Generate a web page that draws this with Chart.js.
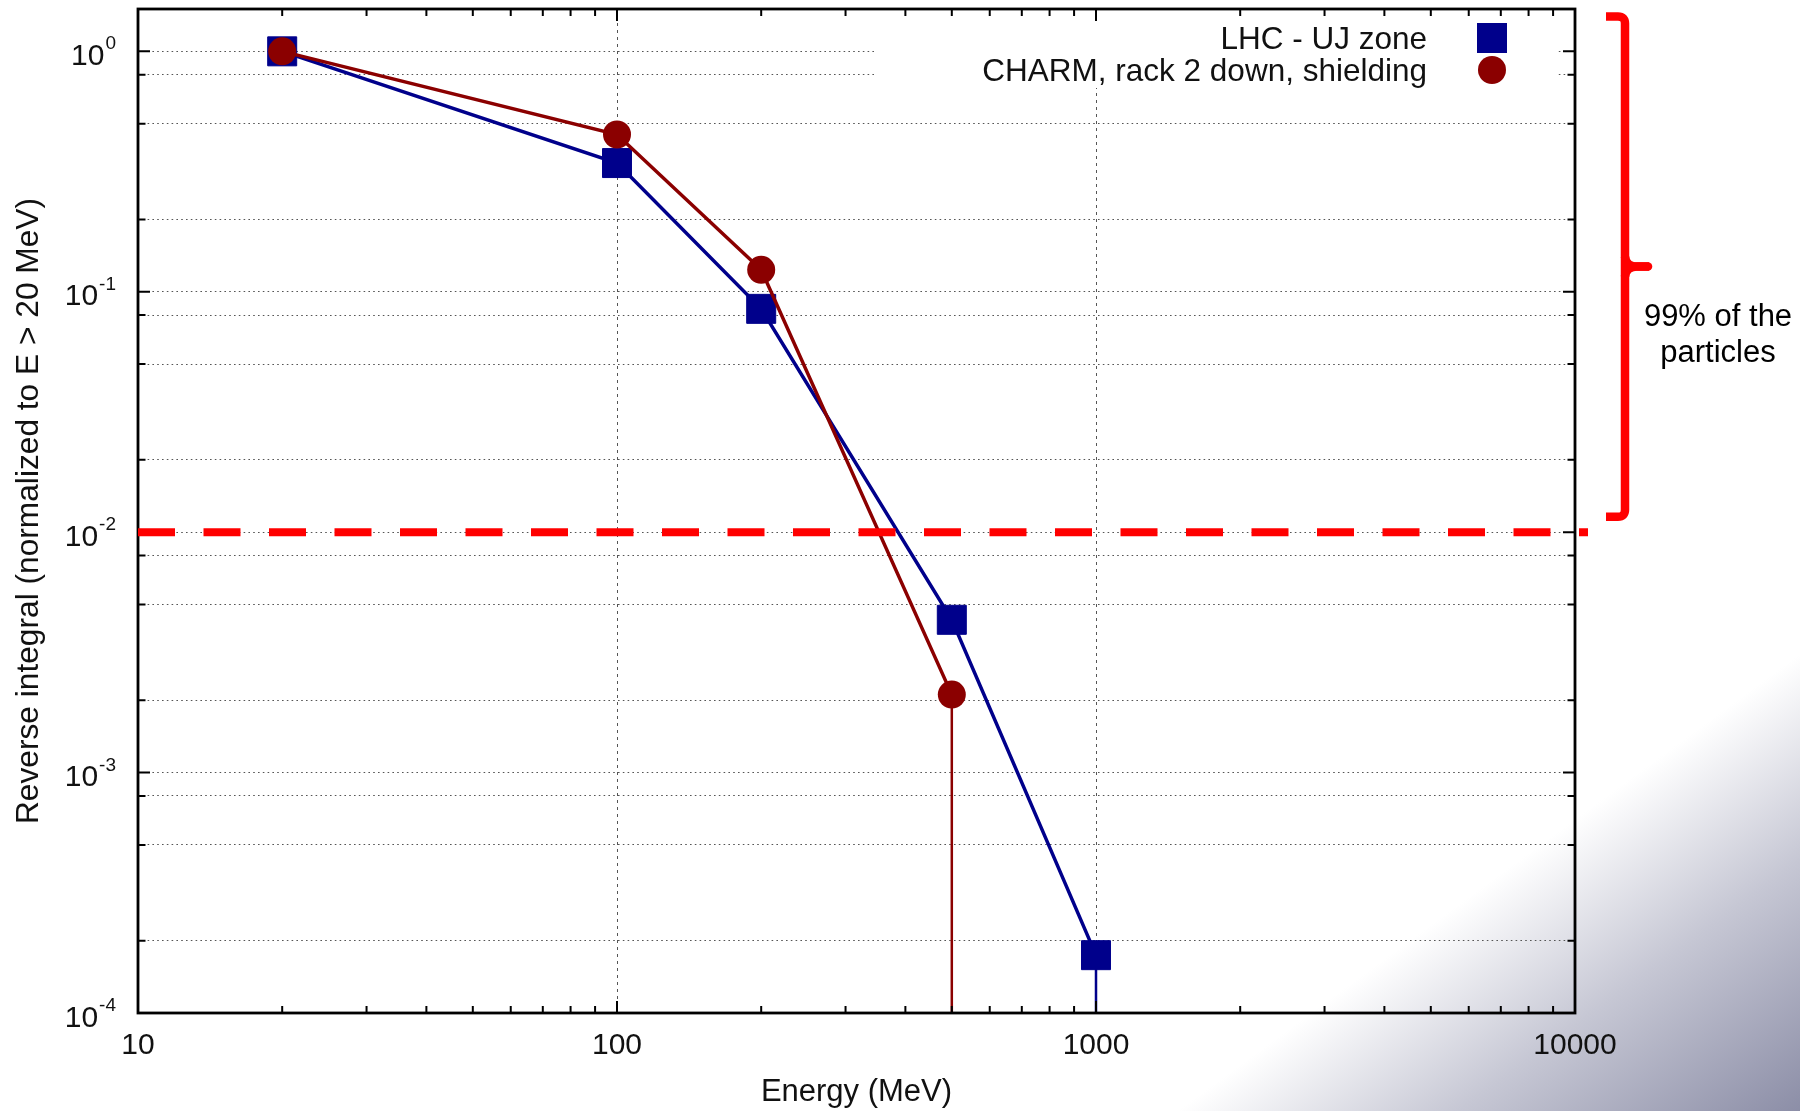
<!DOCTYPE html>
<html>
<head>
<meta charset="utf-8">
<script src="https://cdn.jsdelivr.net/npm/chart.js@4/dist/chart.umd.min.js"></script>
<style>
html,body{margin:0;padding:0;background:#fff;}
canvas{display:block;}
</style>
</head>
<body>
<canvas id="c" width="1800" height="1111"></canvas>
<script>
// ---- data ----
const seriesNames = ['LHC - UJ zone', 'CHARM, rack 2 down, shielding'];
const energyLHC   = [20, 100, 200, 500, 1000, 1000];
const valuesLHC   = [1.0, 0.343, 0.0849, 0.00432, 0.000174, 0.00001];
const energyCHARM = [20, 100, 200, 500, 500];
const valuesCHARM = [1.0, 0.451, 0.1234, 0.00211, 0.00001];
const xTickValues = [10, 100, 1000, 10000];
const yTickValues = [1e-4, 2e-4, 5e-4, 8e-4, 1e-3, 2e-3, 5e-3, 8e-3, 1e-2, 2e-2, 5e-2, 8e-2, 0.1, 0.2, 0.5, 0.8, 1];
const thresholdValue = 0.01;
const annotationLines = ['99% of the', 'particles'];
const xTitle = 'Energy (MeV)';
const yTitle = 'Reverse integral (normalized to E > 20 MeV)';
const xRange = [10, 10000];
const yRange = [1e-4, 1.5];

const FONT = '"Liberation Sans", Arial, Helvetica, sans-serif';
const BLUE = '#00008b';
const RED = '#8b0000';
Chart.defaults.font.family = FONT;

function isDecade(v) {
  const l = Math.log10(v);
  return Math.abs(l - Math.round(l)) < 1e-9;
}

const deco = {
  id: 'deco',
  beforeDraw(chart) {
    const {ctx, width, height} = chart;
    ctx.save();
    ctx.fillStyle = '#ffffff';
    ctx.fillRect(0, 0, width, height);
    const g = ctx.createLinearGradient(width - 218, height - 297, width, height);
    g.addColorStop(0, '#ffffff');
    g.addColorStop(0.45, '#c6c7d4');
    g.addColorStop(1, '#8c8ea7');
    ctx.fillStyle = g;
    ctx.fillRect(0, 0, width, height);
    ctx.restore();
  },
  beforeDatasetsDraw(chart) {
    const {ctx} = chart;
    const {top, right} = chart.chartArea;
    ctx.save();
    ctx.fillStyle = '#ffffff';
    ctx.fillRect(right - 700, top, 682, 79);
    ctx.restore();
  },
  afterDatasetsDraw(chart) {
    const {ctx} = chart;
    const {left, right, top, bottom} = chart.chartArea;
    const xs = chart.scales.x, ys = chart.scales.y;
    ctx.save();

    // frame
    ctx.strokeStyle = '#000';
    ctx.lineWidth = 2.8;
    ctx.setLineDash([]);
    ctx.strokeRect(left, top, right - left, bottom - top);

    // tick marks (inward, mirrored)
    ctx.lineWidth = 2;
    ctx.beginPath();
    for (let d = xs.min; d < xs.max * 1.0001; d *= 10) {
      for (let m = 1; m <= 9; m++) {
        const v = d * m;
        if (v > xs.max * 1.0001) break;
        const px = xs.getPixelForValue(v);
        const L = m === 1 ? 12 : 7;
        ctx.moveTo(px, bottom); ctx.lineTo(px, bottom - L);
        ctx.moveTo(px, top); ctx.lineTo(px, top + L);
      }
    }
    for (const t of ys.ticks) {
      const py = ys.getPixelForValue(t.value);
      const L = isDecade(t.value) ? 12 : 7.5;
      ctx.moveTo(left, py); ctx.lineTo(left + L, py);
      ctx.moveTo(right, py); ctx.lineTo(right - L, py);
    }
    ctx.stroke();

    // y tick labels 10^n
    ctx.fillStyle = '#111';
    ctx.textBaseline = 'alphabetic';
    ctx.textAlign = 'right';
    for (const t of ys.ticks) {
      if (!isDecade(t.value)) continue;
      const e = Math.round(Math.log10(t.value));
      const py = ys.getPixelForValue(t.value);
      const xr = left - 22;
      ctx.font = '19px ' + FONT;
      const exp = String(e);
      ctx.fillText(exp, xr, py - 2);
      const w = ctx.measureText(exp).width;
      ctx.font = '30px ' + FONT;
      ctx.fillText('10', xr - w - 1, py + 13.5);
    }

    // legend
    const ds = chart.data.datasets;
    ctx.font = '31.5px ' + FONT;
    ctx.textAlign = 'right';
    ctx.fillStyle = '#111';
    const rows = [top + 29, top + 61];
    ctx.fillText(ds[0].label, right - 148, rows[0] + 11);
    ctx.fillText(ds[1].label, right - 148, rows[1] + 11);
    ctx.fillStyle = ds[0].backgroundColor;
    ctx.fillRect(right - 83 - 15, rows[0] - 15, 30, 30);
    ctx.fillStyle = ds[1].backgroundColor;
    ctx.beginPath();
    ctx.arc(right - 83, rows[1], 14, 0, Math.PI * 2);
    ctx.fill();

    // threshold dashed line
    const yT = ys.getPixelForValue(thresholdValue);
    ctx.strokeStyle = '#ff0000';
    ctx.lineWidth = 8;
    ctx.setLineDash([37, 28.5]);
    ctx.lineDashOffset = 0;
    ctx.beginPath();
    ctx.moveTo(left, yT);
    ctx.lineTo(right + 13, yT);
    ctx.stroke();
    ctx.setLineDash([]);

    // bracket
    const bx = right + 50;
    const bTop = top + 7.5;
    const bBot = yT - 15.5;
    const bMid = (bTop + bBot) / 2;
    ctx.lineWidth = 8.5;
    ctx.lineJoin = 'round';
    ctx.lineCap = 'butt';
    ctx.beginPath();
    ctx.moveTo(right + 31, bTop);
    ctx.lineTo(bx - 7, bTop);
    ctx.quadraticCurveTo(bx, bTop, bx, bTop + 7);
    ctx.lineTo(bx, bBot - 7);
    ctx.quadraticCurveTo(bx, bBot, bx - 7, bBot);
    ctx.lineTo(right + 31, bBot);
    ctx.stroke();
    ctx.beginPath();
    ctx.moveTo(bx, bMid - 10);
    ctx.quadraticCurveTo(bx + 1, bMid, bx + 12, bMid);
    ctx.lineTo(bx + 24, bMid);
    ctx.moveTo(bx, bMid + 10);
    ctx.quadraticCurveTo(bx + 1, bMid, bx + 12, bMid);
    ctx.stroke();
    ctx.lineCap = 'round';
    ctx.beginPath();
    ctx.moveTo(bx + 12, bMid);
    ctx.lineTo(bx + 23, bMid);
    ctx.stroke();

    // annotation text
    ctx.fillStyle = '#000';
    ctx.font = '31px ' + FONT;
    ctx.textAlign = 'center';
    ctx.fillText(annotationLines[0], right + 143, bMid + 59);
    ctx.fillText(annotationLines[1], right + 143, bMid + 95);

    ctx.restore();
  }
};

const yMin = yRange[0];
new Chart(document.getElementById('c'), {
  type: 'line',
  data: {
    datasets: [
      {
        label: seriesNames[0],
        data: energyLHC.map((x, i) => ({x: x, y: valuesLHC[i]})),
        borderColor: BLUE,
        backgroundColor: BLUE,
        borderWidth: 3.5,
        pointStyle: 'rect',
        pointRadius: valuesLHC.map(v => v < yMin ? 0 : 20.5),
        pointBorderWidth: 1,
        pointBackgroundColor: BLUE,
        pointBorderColor: BLUE,
        order: 2,
        clip: 0,
        segment: { borderWidth: c => (c.p1.parsed.y < yMin ? 2.5 : 3.5) }
      },
      {
        label: seriesNames[1],
        data: energyCHARM.map((x, i) => ({x: x, y: valuesCHARM[i]})),
        borderColor: RED,
        backgroundColor: RED,
        borderWidth: 3.5,
        pointStyle: 'circle',
        pointRadius: valuesCHARM.map(v => v < yMin ? 0 : 14),
        pointBorderWidth: 0,
        pointBackgroundColor: RED,
        pointBorderColor: RED,
        order: 1,
        clip: 0,
        segment: { borderWidth: c => (c.p1.parsed.y < yMin ? 2.5 : 3.5) }
      }
    ]
  },
  options: {
    responsive: false,
    animation: false,
    devicePixelRatio: 1,
    layout: { autoPadding: false, padding: { left: 0, top: 9, right: 225, bottom: 0 } },
    plugins: { legend: { display: false }, tooltip: { enabled: false } },
    scales: {
      x: {
        type: 'logarithmic',
        min: xRange[0], max: xRange[1],
        bounds: 'data',
        afterBuildTicks: s => { s.ticks = xTickValues.map(v => ({value: v})); },
        afterFit: s => { s.height = 98; },
        grid: { color: '#555', lineWidth: 1, drawTicks: false },
        border: { display: false, dash: [3, 4] },
        ticks: {
          autoSkip: false, maxRotation: 0, padding: 15,
          font: { size: 30, family: FONT }, color: '#111',
          callback: v => String(v)
        },
        title: {
          display: true, text: xTitle, color: '#111',
          font: { size: 31, family: FONT },
          padding: { top: 0, bottom: 0 }
        }
      },
      y: {
        type: 'logarithmic',
        min: yRange[0], max: yRange[1],
        bounds: 'data',
        afterBuildTicks: s => { s.ticks = yTickValues.map(v => ({value: v})); },
        afterFit: s => { s.width = 138; },
        grid: { color: '#555', lineWidth: 1, drawTicks: false },
        border: { display: false, dash: [1.6, 3.2] },
        ticks: { display: false, autoSkip: false },
        title: {
          display: true, text: yTitle, color: '#111',
          font: { size: 31.7, family: FONT },
          padding: { top: 10, bottom: 0 }
        }
      }
    }
  },
  plugins: [deco]
});
</script>
</body>
</html>
